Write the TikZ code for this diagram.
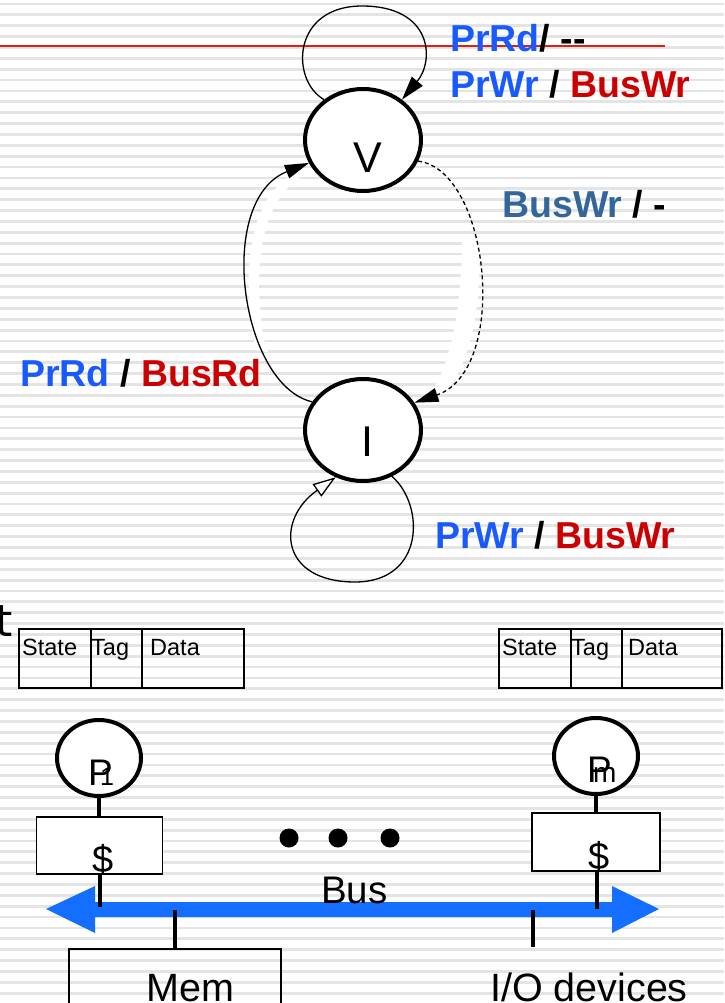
\documentclass[tikz,border=0pt]{standalone}
\usepackage{fontspec}
\setmainfont{Liberation Sans}
\newfontfamily\tfont{DejaVu Sans}
\usetikzlibrary{arrows.meta,shapes.geometric}
\definecolor{prblue}{RGB}{25,90,255}
\definecolor{busred}{RGB}{204,0,0}
\definecolor{steel}{RGB}{51,102,153}
\definecolor{busblue}{RGB}{20,110,255}
\definecolor{stripe}{RGB}{228,228,228}
\definecolor{redline}{RGB}{225,30,20}
\begin{document}
\begin{tikzpicture}[x=1pt,y=-1pt,
  statenode/.style={draw,ellipse,line width=4pt,fill=white,minimum width=116pt,minimum height=102pt,inner sep=0pt},
  procnode/.style={draw,ellipse,line width=4pt,fill=white,minimum width=84pt,minimum height=76pt,inner sep=0pt},
  cachebox/.style={draw,line width=1.5pt,fill=white,minimum width=126pt,minimum height=57pt,inner sep=0pt},
  cell/.style={draw,line width=2pt,minimum height=59pt,inner sep=0pt},
  lab/.style={font=\fontsize{37.5}{40}\selectfont\bfseries,inner sep=0pt,anchor=base west},
  celltext/.style={font=\fontsize{23.5}{26}\selectfont,inner sep=0pt,anchor=base west},
  bigtext/.style={font=\fontsize{39.5}{42}\selectfont,inner sep=0pt,anchor=base west},
  arcline/.style={line width=1.3pt},
  tip/.style={-{Triangle[length=24pt,width=14pt]}},
  stem/.style={line width=4pt}
]
\useasboundingbox (0,0) rectangle (724,1003);
\fill[white] (0,0) rectangle (724,1003);
% background stripes
\foreach \k in {0,...,91}{
  \fill[stripe] (0,{4+10.87*\k-1.4}) rectangle (724,{4+10.87*\k+1.4});
}
% white artefacts beside the arcs
\fill[white] (300,178) .. controls (272,196) and (258,235) .. (259,290) .. controls (260,320) and (263,340) .. (268,352)
  -- (256,350) .. controls (250,325) and (248,300) .. (249,270) .. controls (252,220) and (266,192) .. (290,176) -- cycle;
\fill[white] (478,240) .. controls (483,300) and (472,360) .. (446,392) -- (432,392) .. controls (452,360) and (462,300) .. (462,240) -- cycle;
% red line
\draw[redline,line width=2pt] (0,46) -- (665,46);

% states
\node[statenode] (V) at (363,140) {};
\node[statenode] (I) at (363,430) {};
\node[inner sep=0pt,anchor=base,font=\fontsize{43}{46}\selectfont] (Vt) at (368,172) {V};
\node[inner sep=0pt,anchor=base,font=\fontsize{43}{46}\selectfont] (It) at (367,456) {I};

% transitions
\draw[arcline,tip] (V.134) .. controls (290,80) and (292,6) .. (362,6) .. controls (432,6) and (435,60) .. (V.46);
\draw[arcline,tip] (I.151) .. controls (240,385) and (215,200) .. (V.203);
\draw[arcline,tip,dash pattern=on 4pt off 3pt] (V.339) .. controls (490,170) and (510,370) .. (I.28);
\draw[arcline,-{Triangle[open,fill=white,length=23pt,width=15pt]}] (I.302) .. controls (425,505) and (425,582) .. (355,582) .. controls (280,582) and (275,520) .. (I.240);

% labels
\node[lab] (l1) at (450,52) {\textcolor{prblue}{PrRd}/ -{}-};
\node[lab] (l2) at (450,98) {\textcolor{prblue}{PrWr} / \textcolor{busred}{BusWr}};
\node[lab] (l3) at (502,217) {\textcolor{steel}{BusWr} / -};
\node[lab] (l4) at (20,386) {\textcolor{prblue}{PrRd} / \textcolor{busred}{BusRd}};
\node[lab] (l5) at (435,548) {\textcolor{prblue}{PrWr} / \textcolor{busred}{BusWr}};

% partial slide letter
\node[anchor=base west,inner sep=0pt,font=\tfont\fontsize{44}{48}\selectfont] (tt) at (-5,636) {t};

% cache line tables
\node[cell,minimum width=72pt] (s1) at (55,658.5) {};
\node[cell,minimum width=51pt] (g1) at (116.5,658.5) {};
\node[cell,minimum width=102pt] (d1) at (193,658.5) {};
\node[cell,minimum width=72pt] (s2) at (535,658.5) {};
\node[cell,minimum width=51pt] (g2) at (596.5,658.5) {};
\node[cell,minimum width=100pt] (d2) at (672,658.5) {};
\node[celltext] (s1t) at (22,655) {State};
\node[celltext] (g1t) at (91,655) {Tag};
\node[celltext] (d1t) at (150,655) {Data};
\node[celltext] (s2t) at (502,655) {State};
\node[celltext] (g2t) at (571,655) {Tag};
\node[celltext] (d2t) at (628,655) {Data};

% bus
\fill[busblue] (46,909) -- (95,886) -- (95,902) -- (612,902) -- (612,886) -- (659,909) -- (612,933) -- (612,917) -- (95,917) -- (95,933) -- cycle;
\coordinate (b1) at (100,907);
\coordinate (b2) at (597,909);
\coordinate (b3) at (175,910);
\coordinate (b4) at (533,910);
\node[inner sep=0pt,anchor=base west,font=\fontsize{38.5}{40}\selectfont] (bust) at (321,903) {Bus};

% processors and caches
\node[procnode] (P1) at (99,758) {};
\node[procnode] (Pm) at (596,756) {};
\node[cachebox] (C1) at (99.5,845.5) {};
\node[cachebox,minimum width=128pt,minimum height=58pt] (Cm) at (596,842) {};
\draw[stem] (P1.south) -- (C1.north -| P1.south);
\draw[stem] (Pm.south) -- (Cm.north -| Pm.south);
\draw[stem] (C1.south -| b1) -- (b1);
\draw[stem] (Cm.south -| b2) -- (b2);
\node[inner sep=0pt,anchor=base west,font=\fontsize{37}{40}\selectfont] (P1t) at (88,785) {P};
\node[inner sep=0pt,anchor=base west,font=\fontsize{25}{28}\selectfont] (P1s) at (100,785) {1};
\node[inner sep=0pt,anchor=base west,font=\fontsize{37}{40}\selectfont] (Pmt) at (587,782) {P};
\node[inner sep=0pt,anchor=base west,font=\fontsize{28}{30}\selectfont] (Pms) at (593,782) {m};
\node[inner sep=0pt,anchor=base,font=\fontsize{38}{40}\selectfont] (C1t) at (103,872) {\$};
\node[inner sep=0pt,anchor=base,font=\fontsize{38}{40}\selectfont] (Cmt) at (599,869) {\$};

% dots
\fill (289,838) circle (9.5);
\fill (338,838) circle (9.5);
\fill (390,838) circle (9.5);

% memory and IO
\node[draw,line width=1.5pt,minimum width=212pt,minimum height=80pt,inner sep=0pt,anchor=north west] (Mem) at (68,948) {};
\draw[stem] (b3) -- (Mem.north -| b3);
\coordinate (io) at (533,947);
\draw[stem] (b4) -- (io);
\node[bigtext] (Memt) at (146,1001) {Mem};
\node[bigtext] (IOt) at (490,1001) {I/O devices};
\end{tikzpicture}
\end{document}
